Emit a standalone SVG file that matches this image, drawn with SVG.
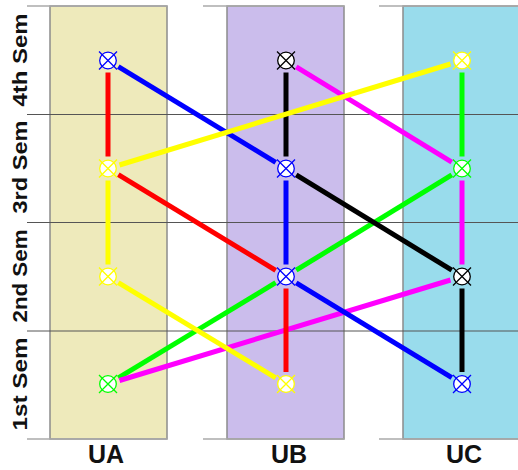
<svg xmlns="http://www.w3.org/2000/svg" width="518" height="470" viewBox="0 0 518 470">
<style>
.col{stroke:#8c8c8c;stroke-width:1.5}
.grid{stroke:#555;stroke-width:1}
.edge{stroke:#aaa;stroke-width:1.5}
.e{stroke-width:5;fill:none}
.lbl{font-family:"Liberation Sans",Arial,sans-serif;font-weight:bold;fill:#111}
</style>
<defs>
<g id="nd" stroke-width="1.3"><circle r="8.3" fill="#ffffff"/><path d="M-9,-9L9,9M-9,9L9,-9" fill="none"/></g>
</defs>
<rect width="518" height="470" fill="#fff"/>
<g id="columns">
<rect class="col" x="50" y="6" width="117" height="433" fill="#EEEABB"/>
<rect class="col" x="227" y="6" width="117" height="433" fill="#CBBDEC"/>
<rect class="col" x="403" y="6" width="117" height="433" fill="#99DCEC"/>
</g>
<g id="grid">
<path class="edge" d="M27,6H167M203,6H344M379,6H518M27,439H167M203,439H344M379,439H518"/>
<path class="grid" d="M27,114.5H518M27,222.5H518M27,331H518"/>
</g>
<g id="labels" class="lbl">
<text transform="translate(27,60) rotate(-90)" text-anchor="middle" font-size="21" textLength="93" lengthAdjust="spacingAndGlyphs">4th Sem</text>
<text transform="translate(27,167) rotate(-90)" text-anchor="middle" font-size="21" textLength="93" lengthAdjust="spacingAndGlyphs">3rd Sem</text>
<text transform="translate(27,276) rotate(-90)" text-anchor="middle" font-size="21" textLength="93" lengthAdjust="spacingAndGlyphs">2nd Sem</text>
<text transform="translate(27,384) rotate(-90)" text-anchor="middle" font-size="21" textLength="93" lengthAdjust="spacingAndGlyphs">1st Sem</text>
<text x="106" y="463" text-anchor="middle" font-size="25">UA</text>
<text x="289" y="463" text-anchor="middle" font-size="25">UB</text>
<text x="464" y="463" text-anchor="middle" font-size="25">UC</text>
</g>
<g id="connectors">
<g stroke="#00FF00" class="e">
<line x1="118.3" y1="377.8" x2="275.7" y2="282.7"/>
<line x1="296.2" y1="270.2" x2="451.8" y2="174.8"/>
<line x1="462" y1="72.5" x2="462" y2="156.5"/>
</g>
<g stroke="#FF00FF" class="e">
<line x1="296.2" y1="66.8" x2="451.8" y2="162.2"/>
<line x1="462" y1="180.5" x2="462" y2="264.5"/>
<line x1="450.5" y1="280" x2="119.5" y2="380.5"/>
</g>
<g stroke="#0000FF" class="e">
<line x1="118.3" y1="66.7" x2="275.7" y2="162.3"/>
<line x1="286" y1="180.5" x2="286" y2="264.5"/>
<line x1="296.2" y1="282.8" x2="451.8" y2="377.7"/>
</g>
<g stroke="#000000" class="e">
<line x1="286" y1="72.5" x2="286" y2="156.5"/>
<line x1="296.2" y1="174.8" x2="451.8" y2="270.2"/>
<line x1="462" y1="288.5" x2="462" y2="372"/>
</g>
<g stroke="#FF0000" class="e">
<line x1="108" y1="72.5" x2="108" y2="156.5"/>
<line x1="118.3" y1="174.7" x2="275.7" y2="270.3"/>
<line x1="286" y1="288.5" x2="286" y2="372"/>
</g>
<g stroke="#FFFF00" class="e">
<line x1="119.5" y1="165" x2="450.5" y2="64"/>
<line x1="108" y1="180.5" x2="108" y2="264.5"/>
<line x1="118.3" y1="282.7" x2="275.7" y2="377.8"/>
</g>
</g>
<g id="UA4" stroke="#0000FF"><use href="#nd" x="108" y="60.5"/></g>
<g id="UA3" stroke="#FFFF00"><use href="#nd" x="108" y="168.5"/></g>
<g id="UA2" stroke="#FFFF00"><use href="#nd" x="108" y="276.5"/></g>
<g id="UA1" stroke="#00FF00"><use href="#nd" x="108" y="384"/></g>
<g id="UB4" stroke="#000000"><use href="#nd" x="286" y="60.5"/></g>
<g id="UB3" stroke="#0000FF"><use href="#nd" x="286" y="168.5"/></g>
<g id="UB2" stroke="#0000FF"><use href="#nd" x="286" y="276.5"/></g>
<g id="UB1" stroke="#FFFF00"><use href="#nd" x="286" y="384"/></g>
<g id="UC4" stroke="#FFFF00"><use href="#nd" x="462" y="60.5"/></g>
<g id="UC3" stroke="#00FF00"><use href="#nd" x="462" y="168.5"/></g>
<g id="UC2" stroke="#000000"><use href="#nd" x="462" y="276.5"/></g>
<g id="UC1" stroke="#0000FF"><use href="#nd" x="462" y="384"/></g>
</svg>
